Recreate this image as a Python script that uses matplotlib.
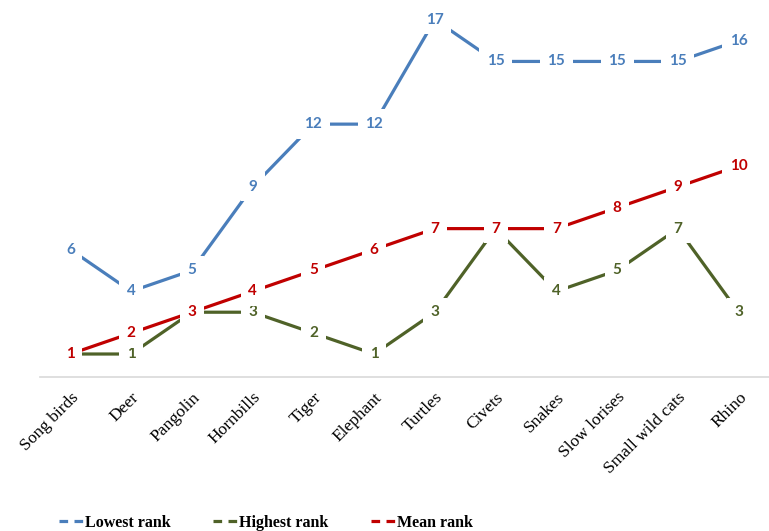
import matplotlib.pyplot as plt
from matplotlib.lines import Line2D

categories = ["Song birds", "Deer", "Pangolin", "Hornbills", "Tiger", "Elephant",
              "Turtles", "Civets", "Snakes", "Slow lorises", "Small wild cats", "Rhino"]
lowest = [6, 4, 5, 9, 12, 12, 17, 15, 15, 15, 15, 16]
highest = [1, 1, 3, 3, 2, 1, 3, 7, 4, 5, 7, 3]
mean = [1, 2, 3, 4, 5, 6, 7, 7, 7, 8, 9, 10]

BLUE = "#4A7EBB"
GREEN = "#4F6228"
RED = "#C00000"

fig = plt.figure(figsize=(7.69, 5.31), dpi=100)
ax = fig.add_axes([40 / 769, 1 - 377 / 531, 1 - 40 / 769, 377 / 531])

x = list(range(len(categories)))
series = [(lowest, BLUE, "Lowest rank", 2), (highest, GREEN, "Highest rank", 3), (mean, RED, "Mean rank", 4)]
for vals, col, name, z in series:
    ax.plot(x, vals, color=col, lw=2.3, zorder=z, solid_capstyle="butt")
    for xi, v in zip(x, vals):
        ax.text(xi, v, str(v), color=col, ha="center", va="center", fontsize=11,
                fontweight="bold", family="Lato", zorder=10 + z,
                bbox=dict(facecolor="white", edgecolor="none", pad=5.5))

ax.set_xlim(-0.5, 11.5)
ax.set_ylim(-0.1, 17.94)
for s in ["top", "right", "left"]:
    ax.spines[s].set_visible(False)
ax.spines["bottom"].set_color("#D9D9D9")
ax.spines["bottom"].set_linewidth(1.2)
ax.set_yticks([])
ax.set_xticks(x)
ax.set_xticklabels(categories, rotation=45, ha="right", rotation_mode="anchor",
                   family="Liberation Serif", fontsize=12.5)
ax.tick_params(axis="x", length=0, pad=9)

handles = [Line2D([], [], color=c, lw=2.3, ls=(0, (2.7, 2))) for _, c, _, _ in series]
labels = [n for _, _, n, _ in series]
fig.legend(handles, labels, loc="center", bbox_to_anchor=(266 / 769, 1 - 523 / 531),
           ncol=3, frameon=False, handlelength=1.5, handletextpad=0.1, columnspacing=2.7,
           prop=dict(family="Liberation Serif", weight="bold", size=11.5))

fig.savefig("out.png", dpi=100)
